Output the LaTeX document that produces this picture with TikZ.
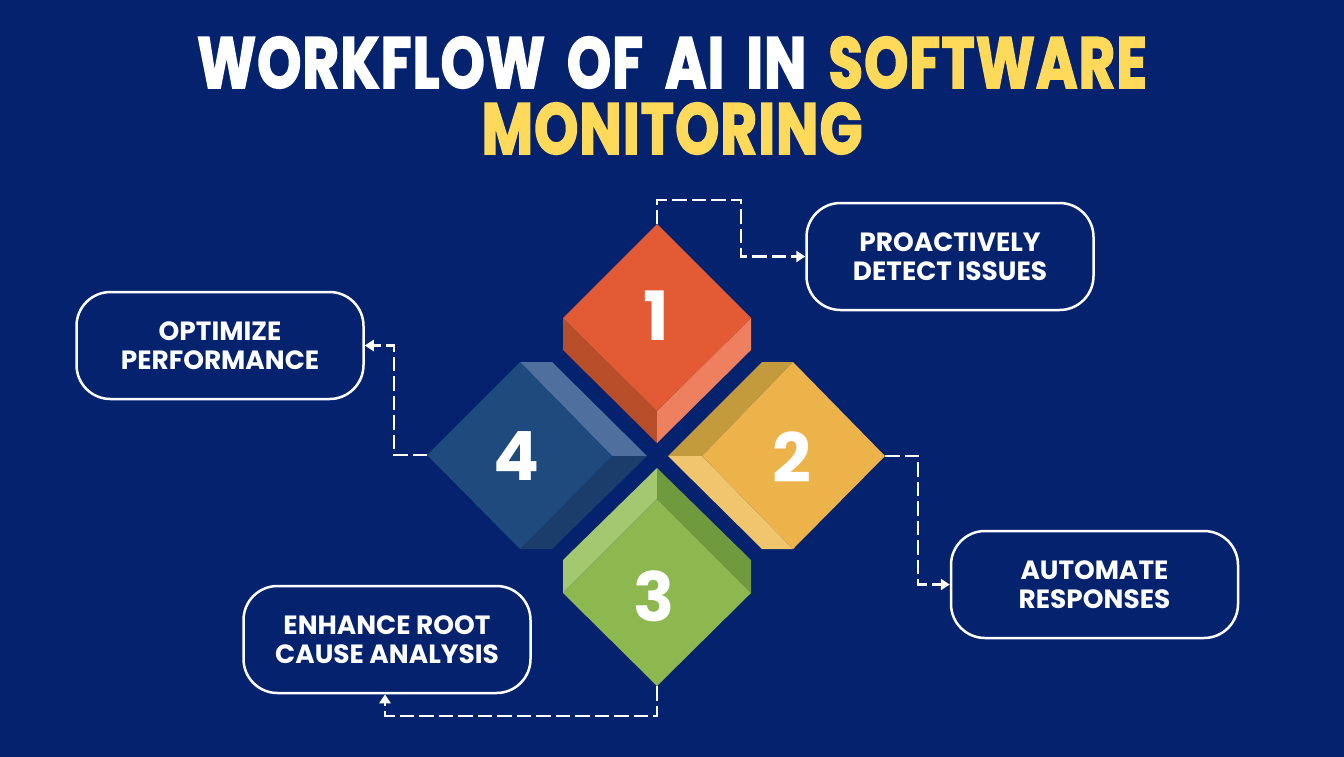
\documentclass[tikz,border=0pt]{standalone}
\usepackage{fontspec}
\usetikzlibrary{arrows.meta}
\setmainfont{Poppins}
\newfontfamily\titlefont[FakeBold=2.4,FakeStretch=0.775,LetterSpace=2]{Poppins Bold}
\newfontfamily\labelfont{Poppins Bold}
\definecolor{bgc}{HTML}{05226E}
\definecolor{ttl}{HTML}{FFD95A}
\definecolor{redT}{HTML}{E35B34}\definecolor{redD}{HTML}{B84D2A}\definecolor{redL}{HTML}{EE8060}
\definecolor{orT}{HTML}{EBB34A}\definecolor{orD}{HTML}{C39A3C}\definecolor{orL}{HTML}{F0C56E}
\definecolor{grT}{HTML}{8DB74F}\definecolor{grD}{HTML}{6F9A3E}\definecolor{grL}{HTML}{A3C870}
\definecolor{blT}{HTML}{1F4A7E}\definecolor{blD}{HTML}{1B3D6C}\definecolor{blL}{HTML}{4F709E}
\tikzset{
  box/.style={draw=white,line width=2.5pt,rounded corners=34pt,minimum width=287pt,minimum height=107pt,align=center,text=white,
    font=\labelfont\fontsize{26.4}{29}\selectfont},
  conn/.style={draw=white,line width=2.5pt,dash pattern=on 14.5pt off 5pt,-{Triangle[length=9pt,width=11pt]}},
  num/.style={text=white,font=\bfseries\fontsize{68}{68}\selectfont,inner sep=0pt},
}
\begin{document}
\begin{tikzpicture}[x=1pt,y=-1pt]
\useasboundingbox (0,0) rectangle (1344,756);
\fill[bgc] (-3,-3) rectangle (1347,759);
\node[anchor=center,align=center,text=white,inner sep=0pt,font=\titlefont\fontsize{72}{66}\selectfont] (title) at (672,95.5)
  {WORKFLOW\hspace{9pt} OF\hspace{9pt} AI\hspace{9pt} IN\hspace{9pt} \textcolor{ttl}{SOFTWARE}\\\textcolor{ttl}{MONITORING}};
% diamond 1
\fill[redD] (563,318) -- (657,411) -- (657,443) -- (563,350) -- cycle;
\fill[redL] (751,318) -- (657,411) -- (657,443) -- (751,350) -- cycle;
\fill[redT] (657,224) -- (751,318) -- (657,411) -- (563,318) -- cycle;
% diamond 2
\fill[orD] (668,456) -- (762,362) -- (793,362) -- (702,456) -- cycle;
\fill[orL] (668,456) -- (702,456) -- (793,549) -- (762,549) -- cycle;
\fill[orT] (793,362) -- (885,456) -- (793,549) -- (702,456) -- cycle;
% diamond 3
\fill[grL] (657,468) -- (657,499) -- (563,593) -- (563,560) -- cycle;
\fill[grD] (657,468) -- (657,499) -- (751,593) -- (751,560) -- cycle;
\fill[grT] (657,499) -- (751,593) -- (657,686) -- (563,593) -- cycle;
% diamond 4
\fill[blL] (520,362) -- (552,362) -- (647,456) -- (612,456) -- cycle;
\fill[blD] (612,456) -- (647,456) -- (552,549) -- (520,549) -- cycle;
\fill[blT] (427,455) -- (520,362) -- (612,456) -- (520,549) -- cycle;
% numbers
\node[num] (n1) at (656,316) {1};
\node[num] (n2) at (792,457) {2};
\node[num] (n3) at (654,596) {3};
\node[num] (n4) at (517,456) {4};
% tips
\coordinate (d1) at (657,224);
\coordinate (d2) at (885,456);
\coordinate (d3) at (657,686);
\coordinate (d4) at (427,455);
% labels
\node[box] (b1) at (950,256.5) {PROACTIVELY\\DETECT ISSUES};
\node[box] (b2) at (1094.5,584.5) {AUTOMATE\\RESPONSES};
\node[box] (b3) at (387,639.5) {ENHANCE ROOT\\CAUSE ANALYSIS};
\node[box] (b4) at (220,345.5) {OPTIMIZE\\PERFORMANCE};
% connectors
\coordinate (c1) at (741,200);
\coordinate (c2) at (918,456);
\coordinate (c3) at (657,716);
\coordinate (c4) at (394,455);
\draw[conn] (d1) |- (c1) |- (b1.west);
\draw[conn] (d2) -- (c2) |- (b2.west);
\draw[conn] (d3) -- (c3) -| (b3.south -| 385,0);
\draw[conn] (d4) -- (c4) |- (b4.east);
\end{tikzpicture}
\end{document}
